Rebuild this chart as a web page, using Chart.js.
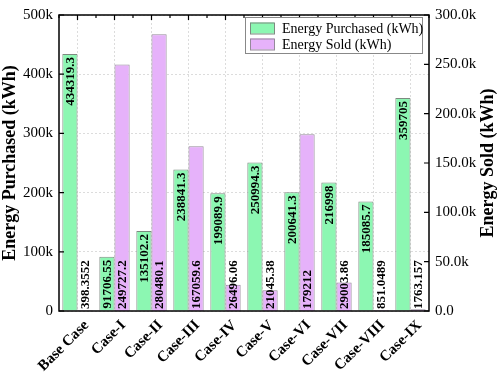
<!DOCTYPE html>
<html>
<head>
<meta charset="utf-8">
<script src="https://cdn.jsdelivr.net/npm/chart.js@4/dist/chart.umd.min.js"></script>
<style>
  html, body { margin: 0; padding: 0; background: #fff; }
  #wrap { width: 498px; height: 375px; }
</style>
</head>
<body>
<div id="wrap"><canvas id="energyChart" width="498" height="375"></canvas></div>
<script>
// chart data
const cases = ['Base Case', 'Case-I', 'Case-II', 'Case-III', 'Case-IV', 'Case-V', 'Case-VI', 'Case-VII', 'Case-VIII', 'Case-IX'];
const purchased = [434319.3, 91706.55, 135102.2, 238841.3, 199089.9, 250994.3, 200641.3, 216998, 185085.7, 359705];
const sold = [398.3552, 249727.2, 280480.1, 167059.6, 26496.06, 21045.38, 179212, 29003.86, 851.0489, 1763.157];
const leftTicks = [0, 100000, 200000, 300000, 400000, 500000];
const rightTicks = [0, 50000, 100000, 150000, 200000, 250000, 300000];

const serif = '"Liberation Serif", "Times New Roman", serif';

// value labels written vertically on the bars
const barLabels = {
    id: 'barLabels',
    afterDatasetsDraw(chart) {
        const ctx = chart.ctx;
        ctx.save();
        ctx.font = 'bold 13px ' + serif;
        ctx.fillStyle = '#000';
        ctx.textBaseline = 'middle';
        chart.data.datasets.forEach((ds, i) => {
            chart.getDatasetMeta(i).data.forEach((bar, j) => {
                const txt = String(ds.data[j]);
                ctx.save();
                if (i === 0) {
                    ctx.translate(bar.x, bar.y + 3);
                    ctx.rotate(-Math.PI / 2);
                    ctx.textAlign = 'right';
                } else {
                    ctx.translate(bar.x, bar.base - 2);
                    ctx.rotate(-Math.PI / 2);
                    ctx.textAlign = 'left';
                }
                ctx.fillText(txt, 0, 1);
                ctx.restore();
            });
        });
        ctx.restore();
    }
};

// frame, inward ticks, slanted category names, right title and the legend box
const frameAndLegend = {
    id: 'frameAndLegend',
    afterDraw(chart) {
        const ctx = chart.ctx;
        const a = chart.chartArea;
        const xs = chart.scales.x, yl = chart.scales.y, yr = chart.scales.y1;
        ctx.save();
        ctx.strokeStyle = '#000';
        ctx.lineWidth = 1.5;
        ctx.strokeRect(a.left, a.top, a.right - a.left, a.bottom - a.top);
        ctx.lineWidth = 1.2;
        ctx.beginPath();
        // top ticks at category centres and boundaries
        const step = (a.right - a.left) / cases.length;
        for (let i = 0; i <= cases.length * 2; i++) {
            const px = a.left + i * step / 2;
            const len = i % 2 ? 5 : 3;
            ctx.moveTo(px, a.top); ctx.lineTo(px, a.top + len);
        }
        leftTicks.forEach(v => {
            const py = yl.getPixelForValue(v);
            ctx.moveTo(a.left, py); ctx.lineTo(a.left + 5, py);
        });
        rightTicks.forEach(v => {
            const py = yr.getPixelForValue(v);
            ctx.moveTo(a.right, py); ctx.lineTo(a.right - 5, py);
        });
        ctx.stroke();

        // category names at 45 degrees
        ctx.fillStyle = '#000';
        ctx.font = 'bold 15px ' + serif;
        ctx.textAlign = 'right';
        ctx.textBaseline = 'middle';
        cases.forEach((c, i) => {
            const px = xs.getPixelForValue(i);
            ctx.save();
            ctx.translate(px + 9, a.bottom + 12);
            ctx.rotate(-Math.PI / 4);
            ctx.fillText(c, 0, 0);
            ctx.restore();
        });

        // right axis title, reading bottom to top
        ctx.save();
        ctx.font = 'bold 18px ' + serif;
        ctx.textAlign = 'center';
        ctx.textBaseline = 'middle';
        ctx.translate(488, (a.top + a.bottom) / 2);
        ctx.rotate(-Math.PI / 2);
        ctx.fillText('Energy Sold (kWh)', 0, 0);
        ctx.restore();

        // legend
        const lx = 245, ly = 17, lw = 177, lh = 36;
        ctx.fillStyle = '#fff';
        ctx.fillRect(lx, ly, lw, lh);
        ctx.strokeStyle = '#888';
        ctx.lineWidth = 1;
        ctx.strokeRect(lx + 0.5, ly + 0.5, lw, lh);
        ctx.font = '14px ' + serif;
        ctx.textBaseline = 'middle';
        ctx.textAlign = 'left';
        chart.data.datasets.forEach((ds, i) => {
            const rowY = ly + 11 + i * 16;
            ctx.fillStyle = ds.backgroundColor;
            ctx.fillRect(lx + 5, rowY - 5.5, 24, 11);
            ctx.strokeStyle = ds.borderColor;
            ctx.strokeRect(lx + 5.5, rowY - 5, 24, 11);
            ctx.fillStyle = '#000';
            ctx.fillText(ds.label, lx + 37, rowY + 1);
        });
        ctx.restore();
    }
};

const ctx = document.getElementById('energyChart').getContext('2d');
new Chart(ctx, {
    type: 'bar',
    data: {
        labels: cases,
        datasets: [{
            label: 'Energy Purchased (kWh)',
            data: purchased,
            yAxisID: 'y',
            backgroundColor: 'rgb(140, 247, 178)',
            borderColor: '#7d8a80',
            borderWidth: 1,
            categoryPercentage: 0.82,
            barPercentage: 1.0
        }, {
            label: 'Energy Sold (kWh)',
            data: sold,
            yAxisID: 'y1',
            backgroundColor: 'rgb(230, 178, 250)',
            borderColor: '#958a9a',
            borderWidth: 1,
            categoryPercentage: 0.82,
            barPercentage: 1.0
        }]
    },
    options: {
        responsive: false,
        animation: false,
        layout: { padding: { top: 5, left: 0, right: 0, bottom: 0 } },
        plugins: {
            legend: { display: false },
            tooltip: { enabled: false }
        },
        scales: {
            x: {
                grid: { offset: false, color: '#dcdcdc', drawTicks: false },
                border: { display: false, dash: [2, 2] },
                ticks: { display: false },
                afterFit(scale) { scale.height = 64; }
            },
            y: {
                position: 'left',
                min: 0,
                max: 500000,
                afterBuildTicks(scale) { scale.ticks = leftTicks.map(v => ({ value: v })); },
                grid: { color: '#dcdcdc', drawTicks: false },
                border: { display: false, dash: [2, 2] },
                ticks: {
                    color: '#000',
                    font: { family: serif, size: 15 },
                    padding: 6,
                    callback: v => v === 0 ? '0' : (v / 1000) + 'k'
                },
                title: {
                    display: true,
                    text: 'Energy Purchased (kWh)',
                    color: '#000',
                    font: { family: serif, size: 18, weight: 'bold' },
                    padding: { top: 0, bottom: 2 }
                },
                afterFit(scale) { scale.width = 59; }
            },
            y1: {
                position: 'right',
                min: 0,
                max: 300000,
                afterBuildTicks(scale) { scale.ticks = rightTicks.map(v => ({ value: v })); },
                grid: { display: false, drawTicks: false },
                border: { display: false },
                ticks: {
                    color: '#000',
                    font: { family: serif, size: 15 },
                    padding: 6,
                    callback: v => v === 0 ? '0.0' : (v / 1000).toFixed(1) + 'k'
                },
                afterFit(scale) { scale.width = 69; }
            }
        }
    },
    plugins: [barLabels, frameAndLegend]
});
</script>
</body>
</html>
